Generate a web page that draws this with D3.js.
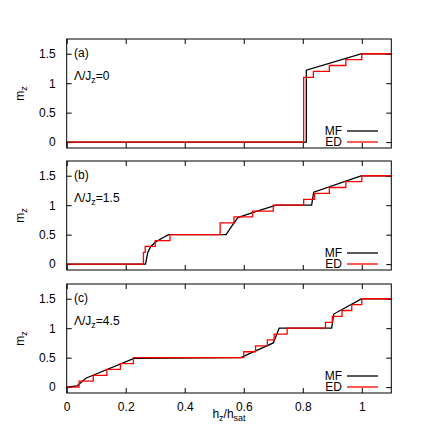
<!DOCTYPE html><html><head><script src="https://cdn.jsdelivr.net/npm/d3@7"></script>
<style>body{margin:0;background:#fff}text{font-family:"Liberation Sans",Arial,sans-serif;font-size:12px}</style></head><body>
<svg id="s" width="436" height="436"></svg>
<script>
const xTicks=[0,0.2,0.4,0.6,0.8,1];
const yTicks=[0,0.5,1,1.5];
const panelLabels=["(a)","(b)","(c)"];
const lambdaVals=["0","1.5","4.5"];
const mfA=[[0,0],[0.812,0],[0.812,1.22],[1,1.5],[1.1,1.5]];
const edA=[[0,0],[0.803,0],[0.803,1.1],[0.836,1.1],[0.836,1.2],[0.89,1.2],[0.89,1.3],[0.946,1.3],[0.946,1.4],[1,1.4],[1,1.5],[1.1,1.5]];
const mfB=[[0,0],[0.267,0],[0.275,0.2],[0.285,0.3],[0.3,0.37],[0.32,0.43],[0.345,0.5],[0.54,0.5],[0.56,0.65],[0.58,0.79],[0.64,0.89],[0.71,1.0],[0.83,1.0],[0.837,1.22],[1,1.5],[1.1,1.5]];
const edB=[[0,0],[0.26,0],[0.26,0.2],[0.266,0.2],[0.266,0.3],[0.3,0.3],[0.3,0.4],[0.35,0.4],[0.35,0.5],[0.52,0.5],[0.52,0.7],[0.567,0.7],[0.567,0.8],[0.63,0.8],[0.63,0.9],[0.70,0.9],[0.70,1.0],[0.803,1.0],[0.803,1.1],[0.84,1.1],[0.84,1.2],[0.89,1.2],[0.89,1.3],[0.946,1.3],[0.946,1.4],[1,1.4],[1,1.5],[1.1,1.5]];
const mfC=[[0,0],[0.035,0.02],[0.065,0.15],[0.23,0.49],[0.59,0.5],[0.70,0.75],[0.72,1.0],[0.898,1.0],[0.905,1.24],[1,1.5],[1.1,1.5]];
const edC=[[0,0],[0.042,0],[0.042,0.1],[0.09,0.1],[0.09,0.2],[0.136,0.2],[0.136,0.3],[0.182,0.3],[0.182,0.4],[0.226,0.4],[0.226,0.5],[0.6,0.5],[0.6,0.6],[0.64,0.6],[0.64,0.7],[0.68,0.7],[0.68,0.8],[0.703,0.8],[0.703,0.9],[0.747,0.9],[0.747,1.0],[0.877,1.0],[0.877,1.1],[0.9,1.1],[0.9,1.2],[0.933,1.2],[0.933,1.3],[0.966,1.3],[0.966,1.4],[1,1.4],[1,1.5],[1.1,1.5]];
const mfs=[mfA,mfB,mfC], eds=[edA,edB,edC];
const tops=[39,161,284], H=109;
const svg=d3.select("#s");
const x=d3.scaleLinear().domain([0,1.1]).range([66.7,391.3]);
tops.forEach((t,i)=>{
  const y=d3.scaleLinear().domain([-0.1,1.75]).range([t+H,t]);
  const g=svg.append("g");
  const ax=(a,tr)=>{const s=g.append("g").attr("transform",tr).call(a);s.select(".domain").remove();s.selectAll("line").attr("stroke","#000");s.selectAll("text").style("font-size","12px").style("font-family","Liberation Sans,Arial");return s;};
  ax(d3.axisBottom(x).tickValues(xTicks).tickSize(-5).tickPadding(9).tickFormat(i==2?d3.format("~g"):""),`translate(0,${t+H})`);
  ax(d3.axisTop(x).tickValues(xTicks).tickSize(-5).tickFormat(""),`translate(0,${t})`);
  ax(d3.axisLeft(y).tickValues(yTicks).tickSize(-5).tickPadding(11).tickFormat(d3.format("~g")),`translate(66.7,0)`);
  ax(d3.axisRight(y).tickValues(yTicks).tickSize(-5).tickFormat(""),`translate(391.3,0)`);
  const line=d3.line().x(d=>x(d[0])).y(d=>y(d[1]));
  g.append("path").attr("d",line(mfs[i])).attr("fill","none").attr("stroke","#000").attr("stroke-width",1.3);
  g.append("path").attr("d",line(eds[i])).attr("fill","none").attr("stroke","#f00").attr("stroke-width",1.3);
  g.append("rect").attr("x",66.7).attr("y",t).attr("width",391.3-66.7).attr("height",H).attr("fill","none").attr("stroke","#000");
  g.append("text").attr("x",74).attr("y",t+18).text(panelLabels[i]);
  const tx=g.append("text").attr("x",74).attr("y",t+41);
  tx.append("tspan").text("Λ/J");tx.append("tspan").attr("dy",3).style("font-size","9px").text("z");tx.append("tspan").attr("dy",-3).text("="+lambdaVals[i]);
  [["MF","#000",t+92],["ED","#f00",t+103]].forEach(([n,c,yy])=>{
    g.append("text").attr("x",342).attr("y",yy+4).attr("text-anchor","end").text(n);
    g.append("line").attr("x1",347).attr("x2",378).attr("y1",yy).attr("y2",yy).attr("stroke",c).attr("stroke-width",1.3);
  });
  const yl=g.append("text").attr("transform",`translate(24,${t+H/2}) rotate(-90)`).attr("text-anchor","middle");
  yl.append("tspan").text("m");yl.append("tspan").attr("dy",3).style("font-size","9px").text("z");
});
const xl=svg.append("text").attr("x",229).attr("y",418).attr("text-anchor","middle");
xl.append("tspan").text("h");xl.append("tspan").attr("dy",3).style("font-size","9px").text("z");
xl.append("tspan").attr("dy",-3).text("/h");xl.append("tspan").attr("dy",3).style("font-size","9px").text("sat");
</script></body></html>
